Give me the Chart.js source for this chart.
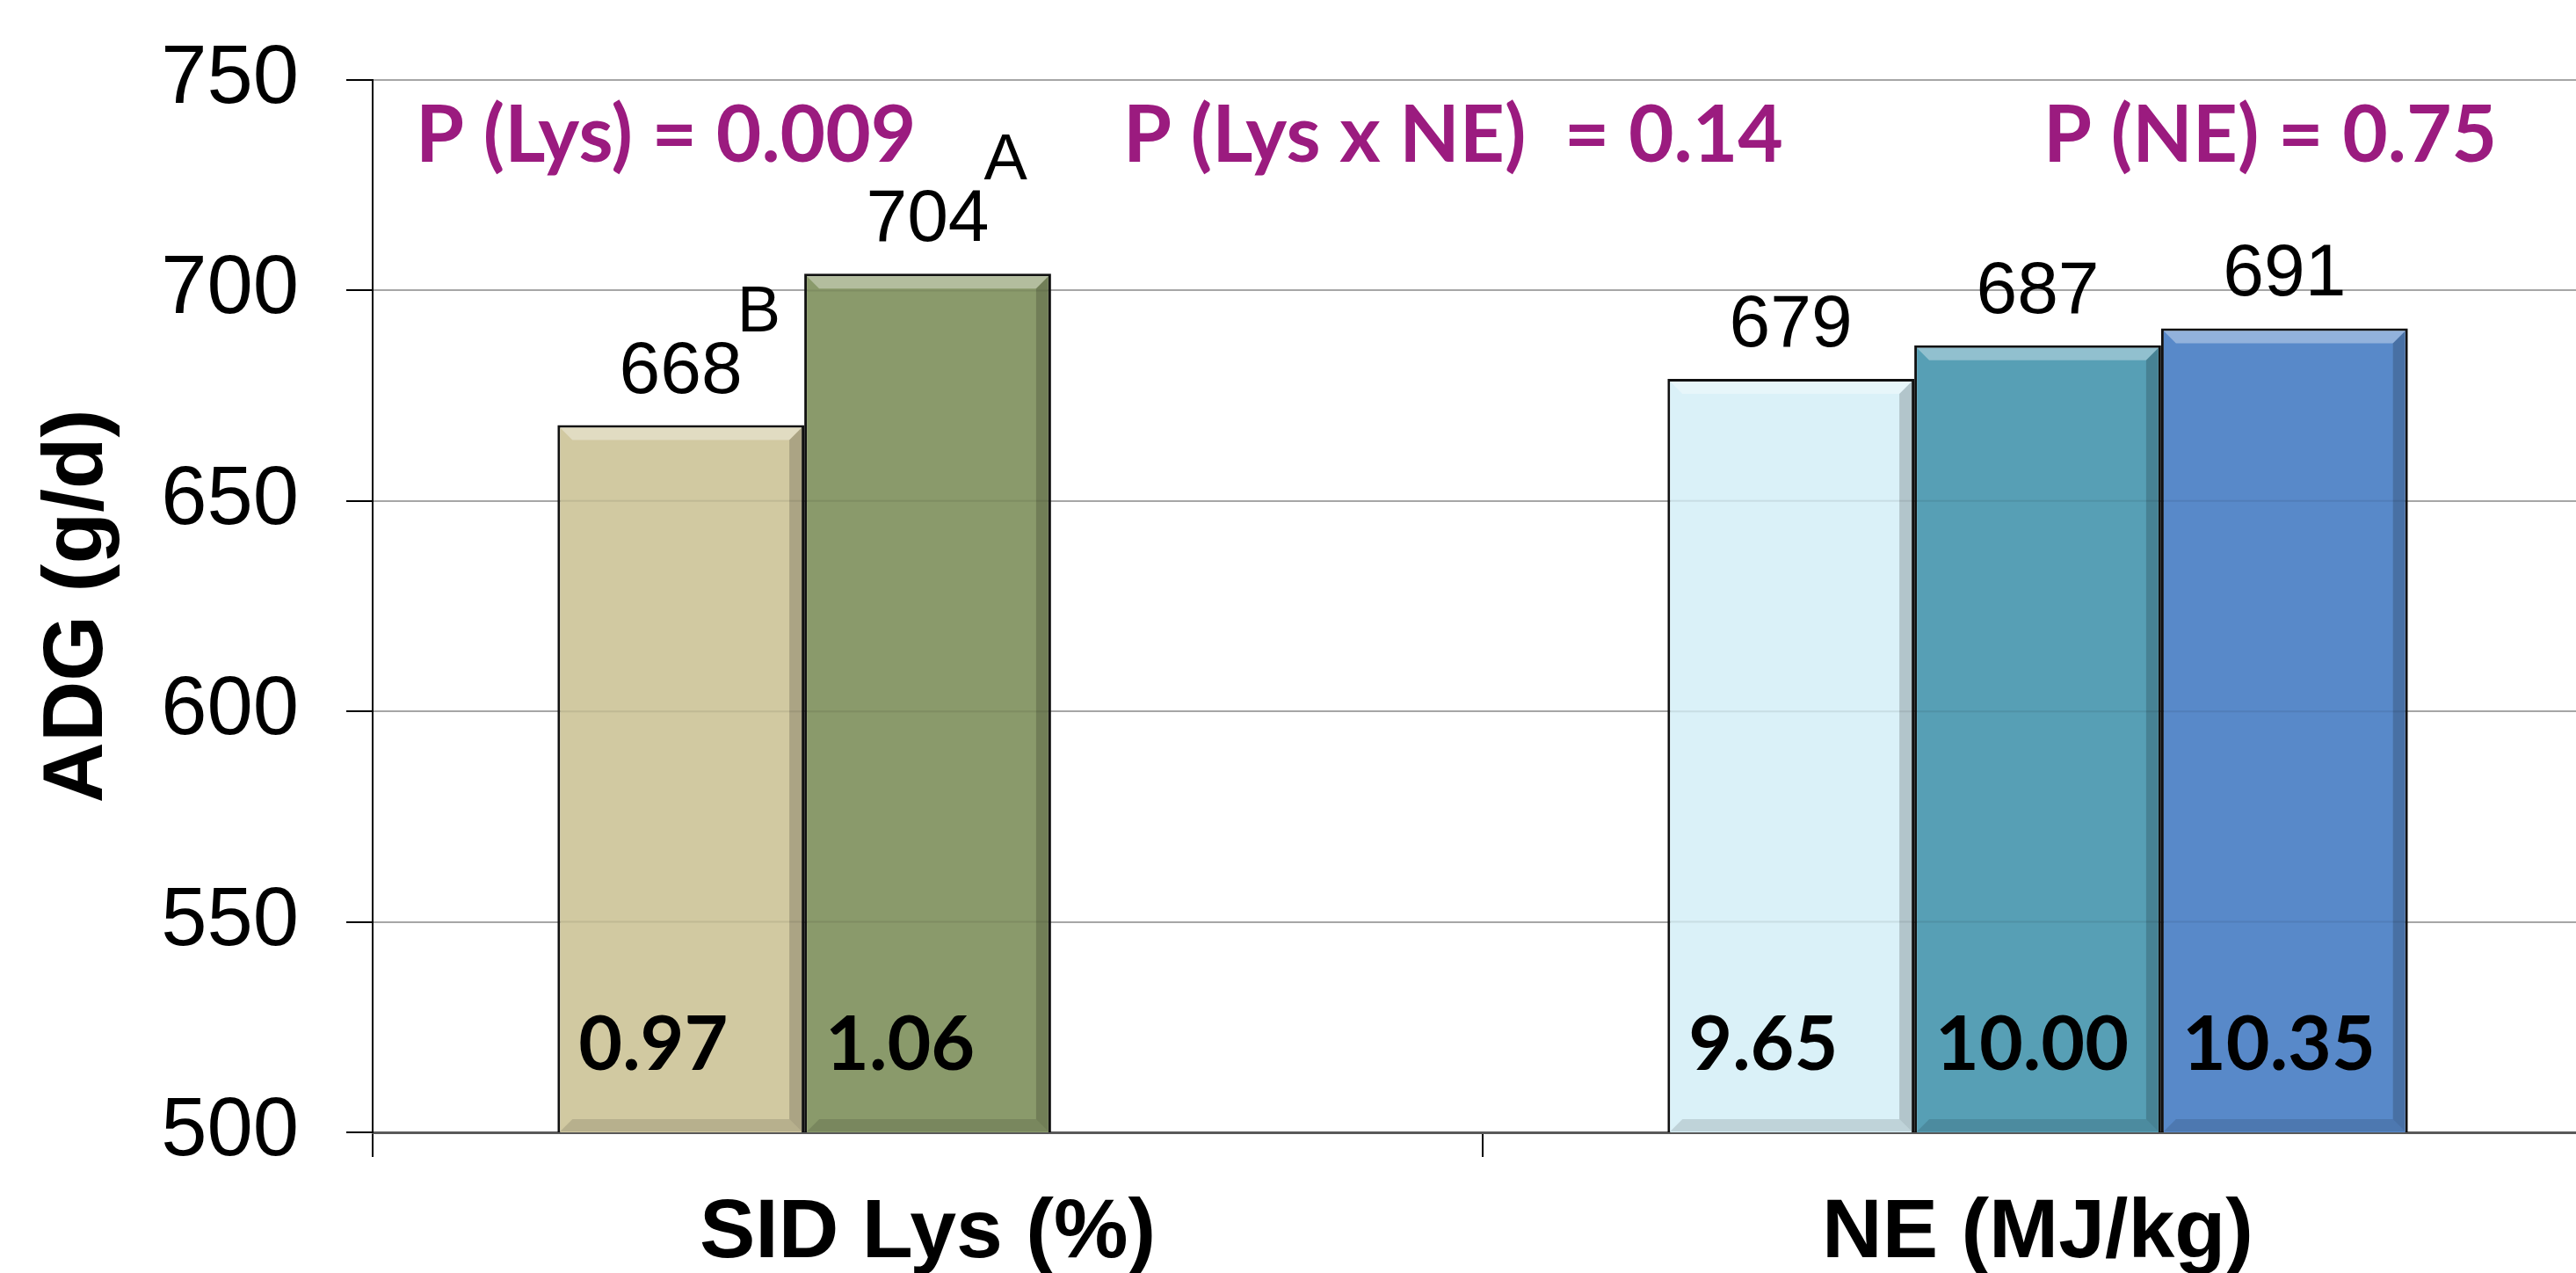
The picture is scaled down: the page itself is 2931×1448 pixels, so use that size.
<!DOCTYPE html>
<html>
<head>
<meta charset="utf-8">
<title>ADG by SID Lys and NE</title>
<script src="https://cdn.jsdelivr.net/npm/chart.js@4.4.1/dist/chart.umd.min.js"></script>
<style>
  html, body { margin: 0; padding: 0; background: #fff; overflow: hidden; }
  #wrap { width: 2931px; height: 1448px; overflow: hidden; }
  canvas { display: block; }
</style>
</head>
<body>
<div id="wrap"><canvas id="chart" width="2960" height="1448"></canvas></div>
<script>
// Data
const categories = ['SID Lys (%)', 'NE (MJ/kg)']
const yTicks = [500, 550, 600, 650, 700, 750]

// ADG (g/d) per level, first slot = Lys, second = NE
const lowLevel = [668, 679]
const midLevel = [704, 687]
const highLevel = [null, 691]

// level names printed inside the bars
const lowNames = ['0.97', '9.65']
const midNames = ['1.06', '10.00']
const highNames = ['', '10.35']

// significance letters
const lowLetters = ['B', '']
const midLetters = ['A', '']

const pLabels = ['P (Lys) = 0.009', 'P (Lys x NE)  = 0.14', 'P (NE) = 0.75']

const lowColors = ['#D1C9A1', '#DAF1F8']
const midColors = ['#8A9A6B', '#579FB5']
const highColors = ['#5889C9', '#5889C9']

const SANS = '"Liberation Sans", Arial, sans-serif'
const CALIBRI = 'Lato, "Open Sans", sans-serif'

// Bevel + value labels + letters + P values
const barLabels = {
  id: 'barLabels',
  afterDatasetsDraw(chart) {
    const { ctx, chartArea } = chart
    ctx.save()
    chart.data.datasets.forEach((ds, i) => {
      const meta = chart.getDatasetMeta(i)
      meta.data.forEach((bar, j) => {
        if (ds.data[j] == null) return
        const { x, y, width, base } = bar.getProps(['x', 'y', 'width', 'base'], true)
        const l = x - width / 2 + 3, r = x + width / 2 - 3
        const t = y + 3, b = Math.min(base, chartArea.bottom) - 1
        const s = 14

        // soft bevel like the office chart
        ctx.fillStyle = 'rgba(255,255,255,0.35)'
        ctx.beginPath()
        ctx.moveTo(l, t); ctx.lineTo(r, t); ctx.lineTo(r - s, t + s); ctx.lineTo(l + s, t + s)
        ctx.closePath(); ctx.fill()
        ctx.fillStyle = 'rgba(0,0,0,0.18)'
        ctx.beginPath()
        ctx.moveTo(r, t); ctx.lineTo(r, b); ctx.lineTo(r - s, b - s); ctx.lineTo(r - s, t + s)
        ctx.closePath(); ctx.fill()
        ctx.fillStyle = 'rgba(0,0,0,0.12)'
        ctx.beginPath()
        ctx.moveTo(l, b); ctx.lineTo(r, b); ctx.lineTo(r - s, b - s); ctx.lineTo(l + s, b - s)
        ctx.closePath(); ctx.fill()

        // faint gridlines through the bars
        const yScale = chart.scales.y
        ctx.strokeStyle = 'rgba(0,0,0,0.08)'
        ctx.lineWidth = 2
        yTicks.forEach(v => {
          const py = yScale.getPixelForValue(v)
          if (py > t && py < b - 2) {
            ctx.beginPath(); ctx.moveTo(l, py); ctx.lineTo(r, py); ctx.stroke()
          }
        })

        // value above bar
        const txt = String(ds.data[j])
        ctx.fillStyle = '#000'
        ctx.font = '84px ' + SANS
        ctx.textAlign = 'center'
        ctx.textBaseline = 'alphabetic'
        ctx.fillText(txt, x, y - 37)
        const w = ctx.measureText(txt).width
        if (ds.letters && ds.letters[j]) {
          ctx.font = '74px ' + SANS
          ctx.textAlign = 'left'
          ctx.fillText(ds.letters[j], x + w / 2 - 6, y - 37 - 70)
        }

        // level name inside the bar
        if (ds.names && ds.names[j]) {
          ctx.font = 'bold 86px ' + CALIBRI
          ctx.textAlign = 'left'
          ctx.fillText(ds.names[j], x - width / 2 + 24, chartArea.bottom - 71)
        }
      })
    })

    // P values along the top
    const offsets = [49, 854, 1901]
    ctx.fillStyle = '#9B1B7F'
    ctx.font = 'bold 89px ' + CALIBRI
    ctx.textAlign = 'left'
    ctx.textBaseline = 'alphabetic'
    pLabels.forEach((p, k) => {
      ctx.fillText(p, chartArea.left + offsets[k], chartArea.top + 93)
    })
    ctx.restore()
  }
}

new Chart(document.getElementById('chart'), {
  type: 'bar',
  data: {
    labels: categories,
    datasets: [
      { data: lowLevel, backgroundColor: lowColors, names: lowNames, letters: lowLetters },
      { data: midLevel, backgroundColor: midColors, names: midNames, letters: midLetters },
      { data: highLevel, backgroundColor: highColors, names: highNames }
    ]
  },
  options: {
    responsive: false,
    animation: false,
    devicePixelRatio: 1,
    layout: { padding: { top: 91, right: 10, left: 0, bottom: 0 } },
    datasets: {
      bar: {
        borderColor: '#111',
        borderWidth: 3,
        barPercentage: 1,
        categoryPercentage: 0.667,
        skipNull: false
      }
    },
    plugins: {
      legend: { display: false },
      tooltip: { enabled: false }
    },
    scales: {
      x: {
        offset: true,
        grid: {
          offset: true,
          drawOnChartArea: false,
          drawTicks: true,
          tickLength: 28,
          tickColor: '#000',
          lineWidth: 2
        },
        border: { display: true, color: '#595959', width: 3 },
        ticks: {
          color: '#000',
          padding: 31,
          font: { family: SANS, size: 95, weight: 'bold' }
        },
        afterFit(scale) {
          scale.height = 160
          scale.paddingLeft = 0
          scale.paddingRight = 0
        }
      },
      y: {
        min: 500,
        max: 750,
        afterBuildTicks(scale) {
          scale.ticks = yTicks.map(v => ({ value: v }))
        },
        grid: {
          color: ctx => (ctx.tick && ctx.tick.value === 500 ? '#595959' : '#A6A6A6'),
          lineWidth: 2,
          tickLength: 30,
          tickColor: '#000'
        },
        border: { display: true, color: '#000', width: 2 },
        ticks: {
          color: '#000',
          padding: 54,
          font: { family: SANS, size: 94 }
        },
        title: {
          display: true,
          text: 'ADG (g/d)',
          color: '#000',
          padding: { top: 32, bottom: 0 },
          font: { family: SANS, size: 96, weight: 'bold' }
        },
        afterFit(scale) {
          scale.width = 424
          scale.paddingTop = 0
          scale.paddingBottom = 0
        }
      }
    }
  },
  plugins: [barLabels]
})
</script>
</body>
</html>
